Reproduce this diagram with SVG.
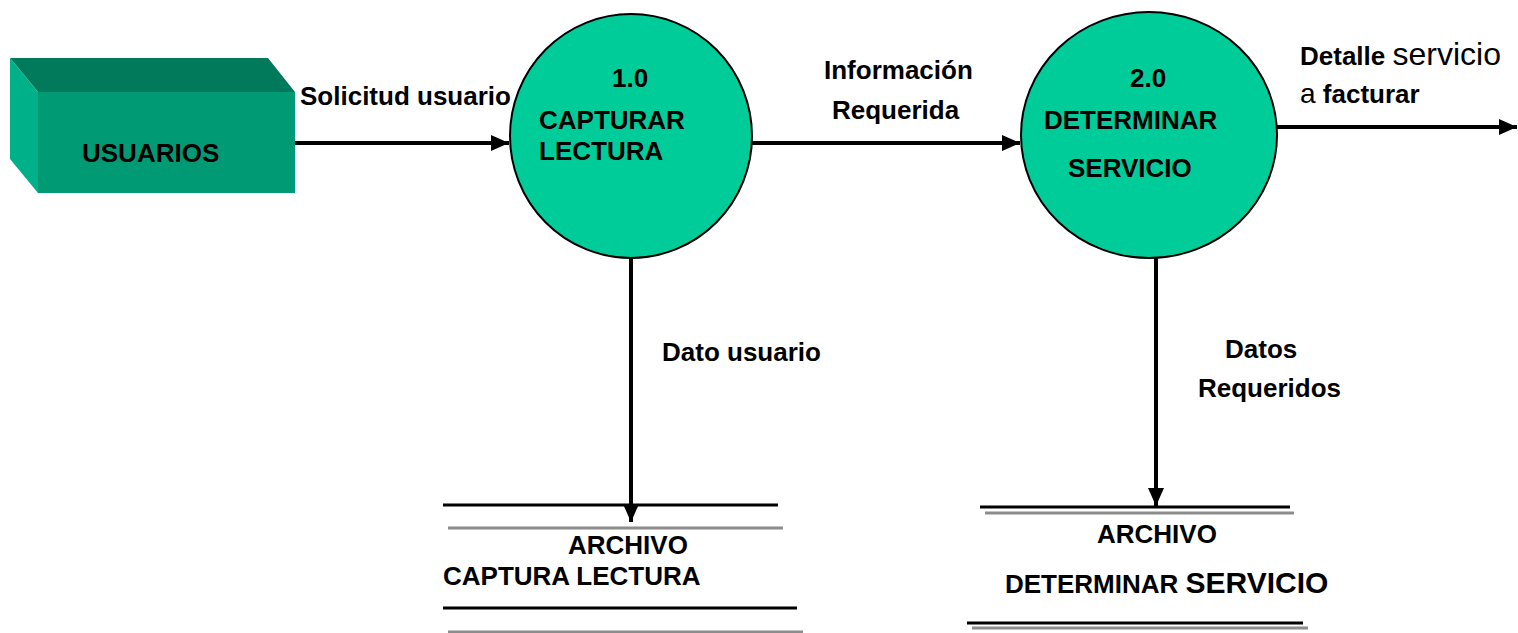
<svg xmlns="http://www.w3.org/2000/svg" width="1518" height="633" viewBox="0 0 1518 633">
<style>
text{font-family:"Liberation Sans",Arial,sans-serif;font-weight:bold;font-size:26px;fill:#000}
.r{font-weight:normal}
.proc{fill:#00cc99;stroke:#000;stroke-width:2}
.flow{stroke:#000;stroke-width:4;fill:none}
.blk{stroke:#000;stroke-width:3}
.gry{stroke:#8c8c8c;stroke-width:3}
</style>
<defs>
<marker id="ah" markerWidth="5" markerHeight="5" refX="4.5" refY="2" orient="auto" markerUnits="strokeWidth">
<path d="M0,0 L4.5,2 L0,4 Z" fill="#000"/>
</marker>
</defs>
<rect width="1518" height="633" fill="#fff"/>
<g id="connectors">
<line class="flow" x1="295" y1="143" x2="509" y2="143" marker-end="url(#ah)"/>
<line class="flow" x1="752" y1="143" x2="1020" y2="143" marker-end="url(#ah)"/>
<line class="flow" x1="1277" y1="127" x2="1517" y2="127" marker-end="url(#ah)"/>
<line class="flow" x1="631" y1="258" x2="631" y2="522" marker-end="url(#ah)"/>
<line class="flow" x1="1156" y1="258" x2="1156" y2="506" marker-end="url(#ah)"/>
<text x="300" y="105">Solicitud usuario</text>
<text x="824" y="79">Información</text>
<text x="832" y="119">Requerida</text>
<text x="1300" y="65">Detalle <tspan class="r" font-size="32">servicio</tspan></text>
<text x="1300" y="103"><tspan class="r" font-size="28">a</tspan> facturar</text>
<text x="662" y="361">Dato usuario</text>
<text x="1225" y="358">Datos</text>
<text x="1198" y="397">Requeridos</text>
</g>
<g id="usuarios">
<polygon points="10,58 268,58 295,92 38,92" fill="#007a5a"/>
<polygon points="10,58 38,92 38,193 10,159" fill="#00b088"/>
<rect x="38" y="92" width="257" height="101" fill="#009a74"/>
<text x="82" y="162">USUARIOS</text>
</g>
<g id="p1">
<ellipse class="proc" cx="631" cy="136" rx="121" ry="122"/>
<text x="612" y="87" font-size="31">1.0</text>
<text x="539" y="129">CAPTURAR</text>
<text x="539" y="160">LECTURA</text>
</g>
<g id="p2">
<ellipse class="proc" cx="1149" cy="135" rx="128" ry="123"/>
<text x="1130" y="87" font-size="31">2.0</text>
<text x="1044" y="129">DETERMINAR</text>
<text x="1068" y="177">SERVICIO</text>
</g>
<g id="store1">
<line class="blk" x1="443" y1="505" x2="778" y2="505"/>
<line class="gry" x1="448" y1="528" x2="783" y2="528"/>
<line class="blk" x1="443" y1="608" x2="797" y2="608"/>
<line class="gry" x1="448" y1="632" x2="803" y2="632"/>
<text x="568" y="554">ARCHIVO</text>
<text x="443" y="585">CAPTURA LECTURA</text>
</g>
<g id="store2">
<line class="blk" x1="980" y1="507" x2="1290" y2="507"/>
<line class="gry" x1="985" y1="513" x2="1294" y2="513"/>
<line class="blk" x1="967" y1="623" x2="1303" y2="623"/>
<line class="gry" x1="972" y1="628" x2="1308" y2="628"/>
<text x="1097" y="543">ARCHIVO</text>
<text x="1005" y="593">DETERMINAR <tspan font-size="30">SERVICIO</tspan></text>
</g>
</svg>
